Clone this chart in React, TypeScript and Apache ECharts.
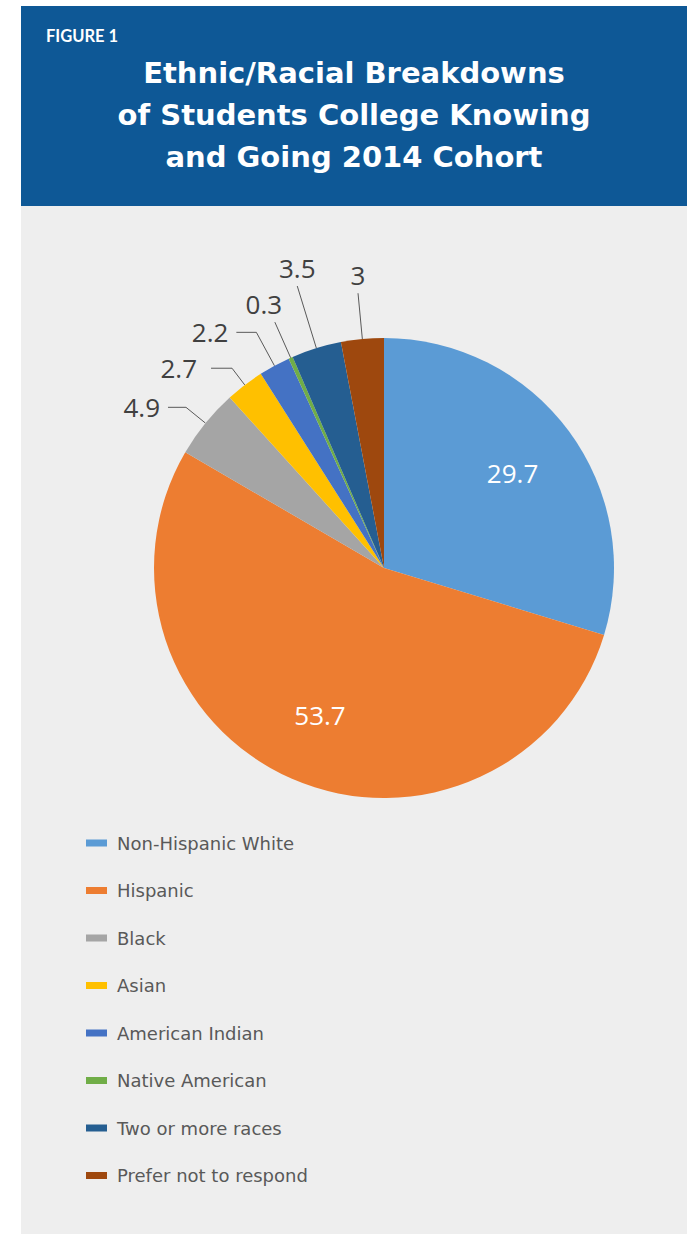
import React, { useEffect, useRef } from "react";
import * as echarts from "echarts";

const categories = [
  "Non-Hispanic White",
  "Hispanic",
  "Black",
  "Asian",
  "American Indian",
  "Native American",
  "Two or more races",
  "Prefer not to respond",
];
const values = [29.7, 53.7, 4.9, 2.7, 2.2, 0.3, 3.5, 3];
const colors = ["#5B9BD5", "#ED7D31", "#A5A5A5", "#FFC000", "#4472C4", "#70AD47", "#255E91", "#9E480E"];

const figureLabel = "FIGURE 1";
const titleLines = ["Ethnic/Racial Breakdowns", "of Students College Knowing", "and Going 2014 Cohort"];

// label styling (leader lengths / nudges)
const INSIDE_IDX = [0, 1];
const LEADER_LEN = [0, 0, 25, 21, 38, 39, 65, 46];
const LEADER_LEN2 = [0, 0, 18, 21, 20, 1, 1, 1];
const LABEL_GAP = [5, 5, 8, 14, 8, 5, 5, 5];
const TOP_IDX = [5, 6, 7];
const TOP_NUDGE_X = [0, 0, 0, 0, 0, -11, 0, 0];

const CX = 384;
const CY = 568;
const R = 230;

export default function App() {
  const ref = useRef<HTMLDivElement>(null);
  useEffect(() => {
    if (!ref.current) return;
    const chart = echarts.init(ref.current, null, { renderer: "svg" });

    const mainData = categories.map((name, i) => {
      const inside = INSIDE_IDX.includes(i);
      return {
        name,
        value: values[i],
        itemStyle: { color: colors[i] },
        label: { show: !inside, distanceToLabelLine: LABEL_GAP[i] },
        labelLine: { show: !inside, length: LEADER_LEN[i], length2: LEADER_LEN2[i] },
      };
    });

    const overlayData = categories.map((name, i) => ({
      name,
      value: values[i],
      itemStyle: { color: "rgba(0,0,0,0)" },
      label: { show: INSIDE_IDX.includes(i) },
    }));

    chart.setOption({
      animation: false,
      graphic: [
        {
          type: "rect",
          z: -10,
          shape: { x: 21, y: 6, width: 666, height: 200 },
          style: { fill: "#0E5896" },
        },
        {
          type: "rect",
          z: -10,
          shape: { x: 21, y: 206, width: 666, height: 1028 },
          style: { fill: "#EEEEEE" },
        },
        {
          type: "text",
          z: -5,
          x: 46,
          y: 36,
          style: {
            text: figureLabel,
            fill: "#FFFFFF",
            font: "bold 16.5px Lato",
            verticalAlign: "middle",
            align: "left",
          },
        },
        {
          type: "text",
          z: -5,
          x: 354,
          y: 52,
          style: {
            text: titleLines.join("\n"),
            fill: "#FFFFFF",
            font: "bold 29px 'DejaVu Sans'",
            lineHeight: 42,
            align: "center",
            verticalAlign: "top",
          },
        },
      ],
      legend: {
        orient: "vertical",
        left: 86,
        top: 832,
        padding: 0,
        icon: "rect",
        itemWidth: 21,
        itemHeight: 7,
        itemGap: 25.5,
        data: categories,
        selectedMode: false,
        textStyle: {
          fontFamily: "DejaVu Sans",
          fontSize: 18,
          lineHeight: 22,
          color: "#595959",
          padding: [0, 0, 0, 5],
        },
      },
      series: [
        {
          type: "pie",
          center: [CX, CY],
          radius: R,
          startAngle: 90,
          clockwise: true,
          avoidLabelOverlap: false,
          silent: true,
          data: mainData,
          label: {
            position: "outside",
            formatter: "{c}",
            color: "#404040",
            fontFamily: "Open Sans",
            fontSize: 26,
          },
          labelLine: {
            lineStyle: { color: "#595959", width: 1 },
          },
          labelLayout: (p: any) => {
            const i = p.dataIndex;
            if (!TOP_IDX.includes(i) || !p.labelLinePoints) return {};
            const a = p.labelLinePoints[0];
            const b = p.labelLinePoints[1];
            return {
              x: b[0] + TOP_NUDGE_X[i],
              y: b[1] - 18,
              align: "center",
              verticalAlign: "middle",
              labelLinePoints: [a, b, b],
            };
          },
          emphasis: { disabled: true },
        },
        {
          type: "pie",
          center: [CX, CY],
          radius: 314,
          startAngle: 90,
          clockwise: true,
          silent: true,
          legendHoverLink: false,
          data: overlayData,
          label: {
            position: "inside",
            formatter: "{c}",
            color: "#FFFFFF",
            fontFamily: "Open Sans",
            fontSize: 26,
          },
          labelLine: { show: false },
          emphasis: { disabled: true },
        },
      ],
    });
    return () => chart.dispose();
  }, []);
  return (
    <div
      ref={ref}
      style={{ position: "absolute", left: 0, top: 0, width: 687, height: 1234 }}
    />
  );
}
